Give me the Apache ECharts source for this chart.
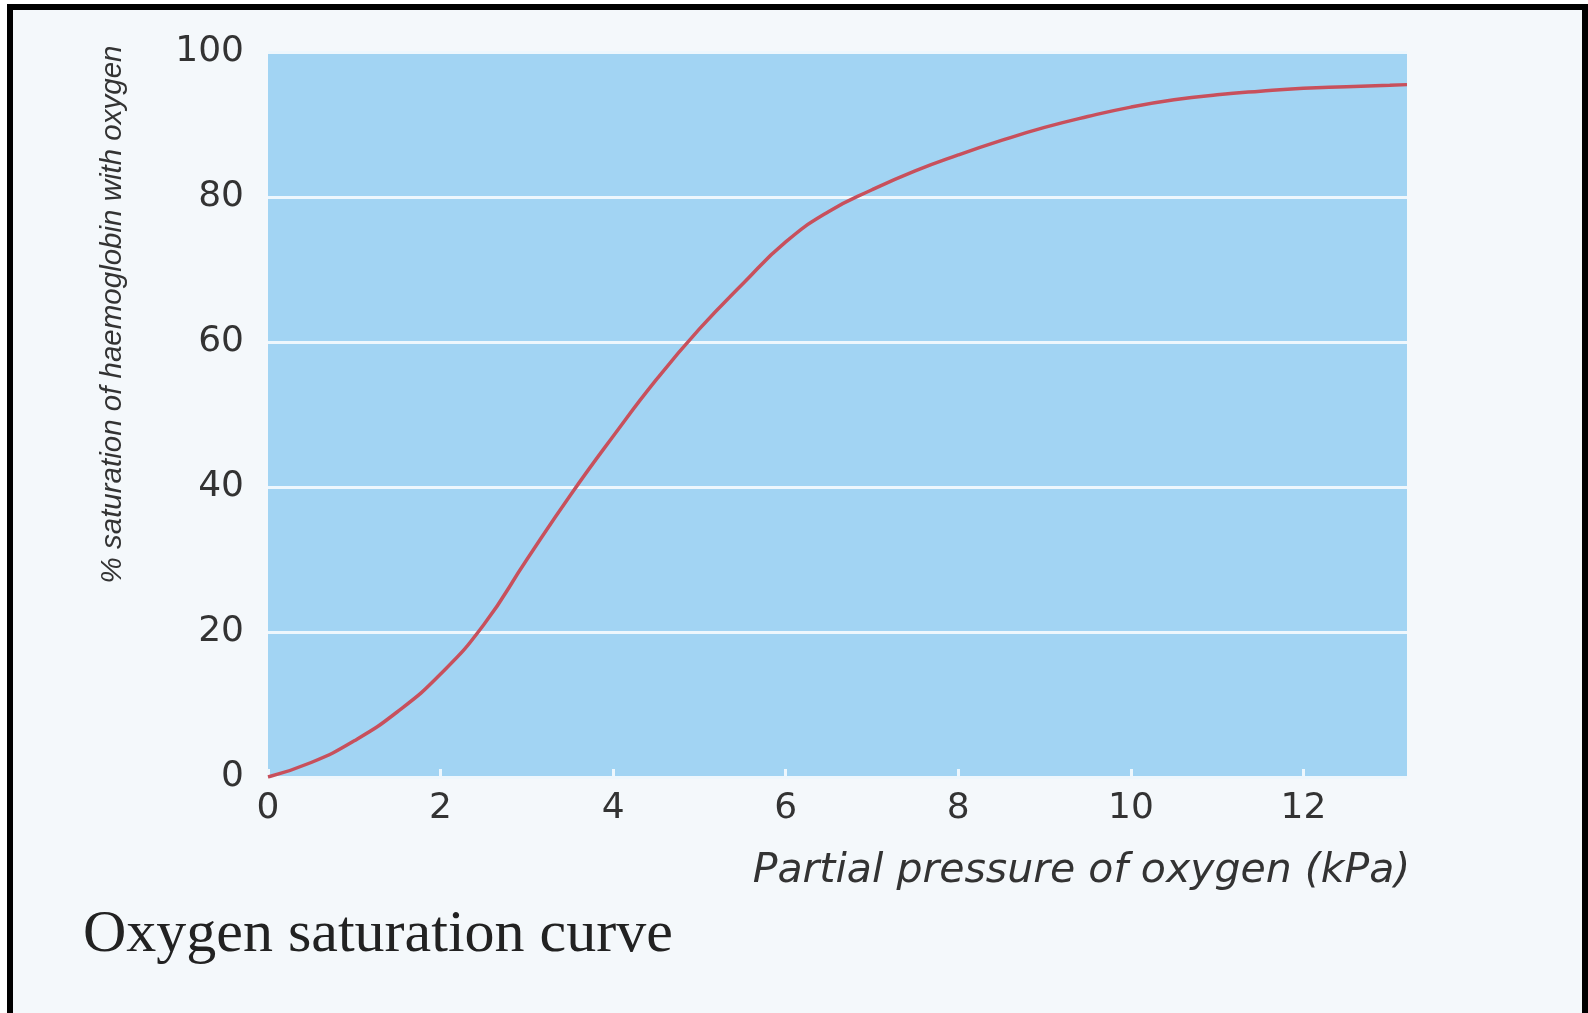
<!DOCTYPE html>
<html>
<head>
<meta charset="utf-8">
<script src="https://cdn.jsdelivr.net/npm/echarts@6/dist/echarts.min.js"></script>
<style>
  html, body { margin: 0; padding: 0; background: #ffffff; }
  #chart { position: absolute; left: 0; top: 0; width: 1588px; height: 1013px; background: #f4f8fb; }
  .frame { position: absolute; background: #000; pointer-events: none; }
  .white { position: absolute; background: #fff; pointer-events: none; }
</style>
</head>
<body>
<div id="chart"></div>
<div class="white" style="left:0;top:0;width:1588px;height:4px;"></div>
<div class="white" style="left:0;top:0;width:7px;height:1013px;"></div>
<div class="frame" style="left:7px;top:4px;width:1581px;height:6px;"></div>
<div class="frame" style="left:7px;top:4px;width:6px;height:1009px;"></div>
<div class="frame" style="left:1582px;top:4px;width:6px;height:1009px;"></div>
<script>
// Data
const pressureKPa = [0, 0.5, 1, 1.5, 2, 2.5, 3, 3.5, 4, 4.5, 5, 5.5, 6, 6.5, 7, 7.5, 8, 8.5, 9, 9.5, 10, 10.5, 11, 11.5, 12, 12.5, 13, 13.2];
const saturationPct = [0, 2.0, 5.0, 9.0, 14.2, 21.0, 30.0, 38.8, 47.0, 54.8, 61.8, 68.0, 73.8, 78.0, 81.0, 83.6, 85.8, 87.8, 89.6, 91.1, 92.4, 93.4, 94.1, 94.6, 95.0, 95.2, 95.4, 95.5];
const xTickValues = [0, 2, 4, 6, 8, 10, 12];
const yTickValues = [0, 20, 40, 60, 80, 100];
const xTitle = 'Partial pressure of oxygen (kPa)';
const yTitle = '% saturation of haemoglobin with oxygen';
const caption = 'Oxygen saturation curve';

const points = pressureKPa.map((p, i) => [p, saturationPct[i]]);

const chart = echarts.init(document.getElementById('chart'), null, { renderer: 'canvas' });
chart.setOption({
  backgroundColor: '#f4f8fb',
  animation: false,
  title: {
    text: caption,
    left: 78,
    top: 900,
    textStyle: { fontFamily: 'Liberation Serif', fontSize: 60, fontWeight: 'normal', color: '#222' }
  },
  grid: {
    left: 268, top: 52, right: 181, bottom: 236,
    outerBoundsMode: 'none',
    containLabel: false,
    show: true, backgroundColor: '#a2d4f3', borderWidth: 0
  },
  xAxis: {
    type: 'value',
    min: 0, max: 13.2, interval: 2,
    name: xTitle,
    nameLocation: 'middle',
    nameGap: 74,
    nameMoveOverlap: false,
    nameTextStyle: {
      align: 'center', verticalAlign: 'top', padding: [0, 0, 0, 488],
      fontFamily: 'DejaVu Sans', fontStyle: 'italic', fontSize: 41, color: '#333'
    },
    axisLine: { show: false },
    axisTick: {
      show: true, inside: true, length: 8, customValues: xTickValues,
      lineStyle: { color: '#eef7fd', width: 3 }
    },
    axisLabel: {
      customValues: xTickValues,
      margin: 14,
      fontFamily: 'DejaVu Sans', fontSize: 36, color: '#333'
    },
    splitLine: { show: false }
  },
  yAxis: {
    type: 'value',
    min: 0, max: 100, interval: 20,
    name: yTitle,
    nameLocation: 'middle',
    nameRotate: 90,
    nameGap: 140,
    nameMoveOverlap: false,
    nameTextStyle: {
      padding: [0, 0, 0, 200],
      fontFamily: 'Liberation Sans',
      fontStyle: 'italic', fontSize: 29.5, color: '#333'
    },
    axisLine: { show: false },
    axisTick: { show: false },
    axisLabel: { margin: 24, fontFamily: 'DejaVu Sans', fontSize: 36, color: '#333' },
    splitLine: { show: true, lineStyle: { color: '#eef7fd', width: 3 } }
  },
  series: [{
    type: 'line',
    data: points,
    smooth: true,
    symbol: 'none',
    lineStyle: { color: '#c8505c', width: 3.5 }
  }]
});
</script>
</body>
</html>
